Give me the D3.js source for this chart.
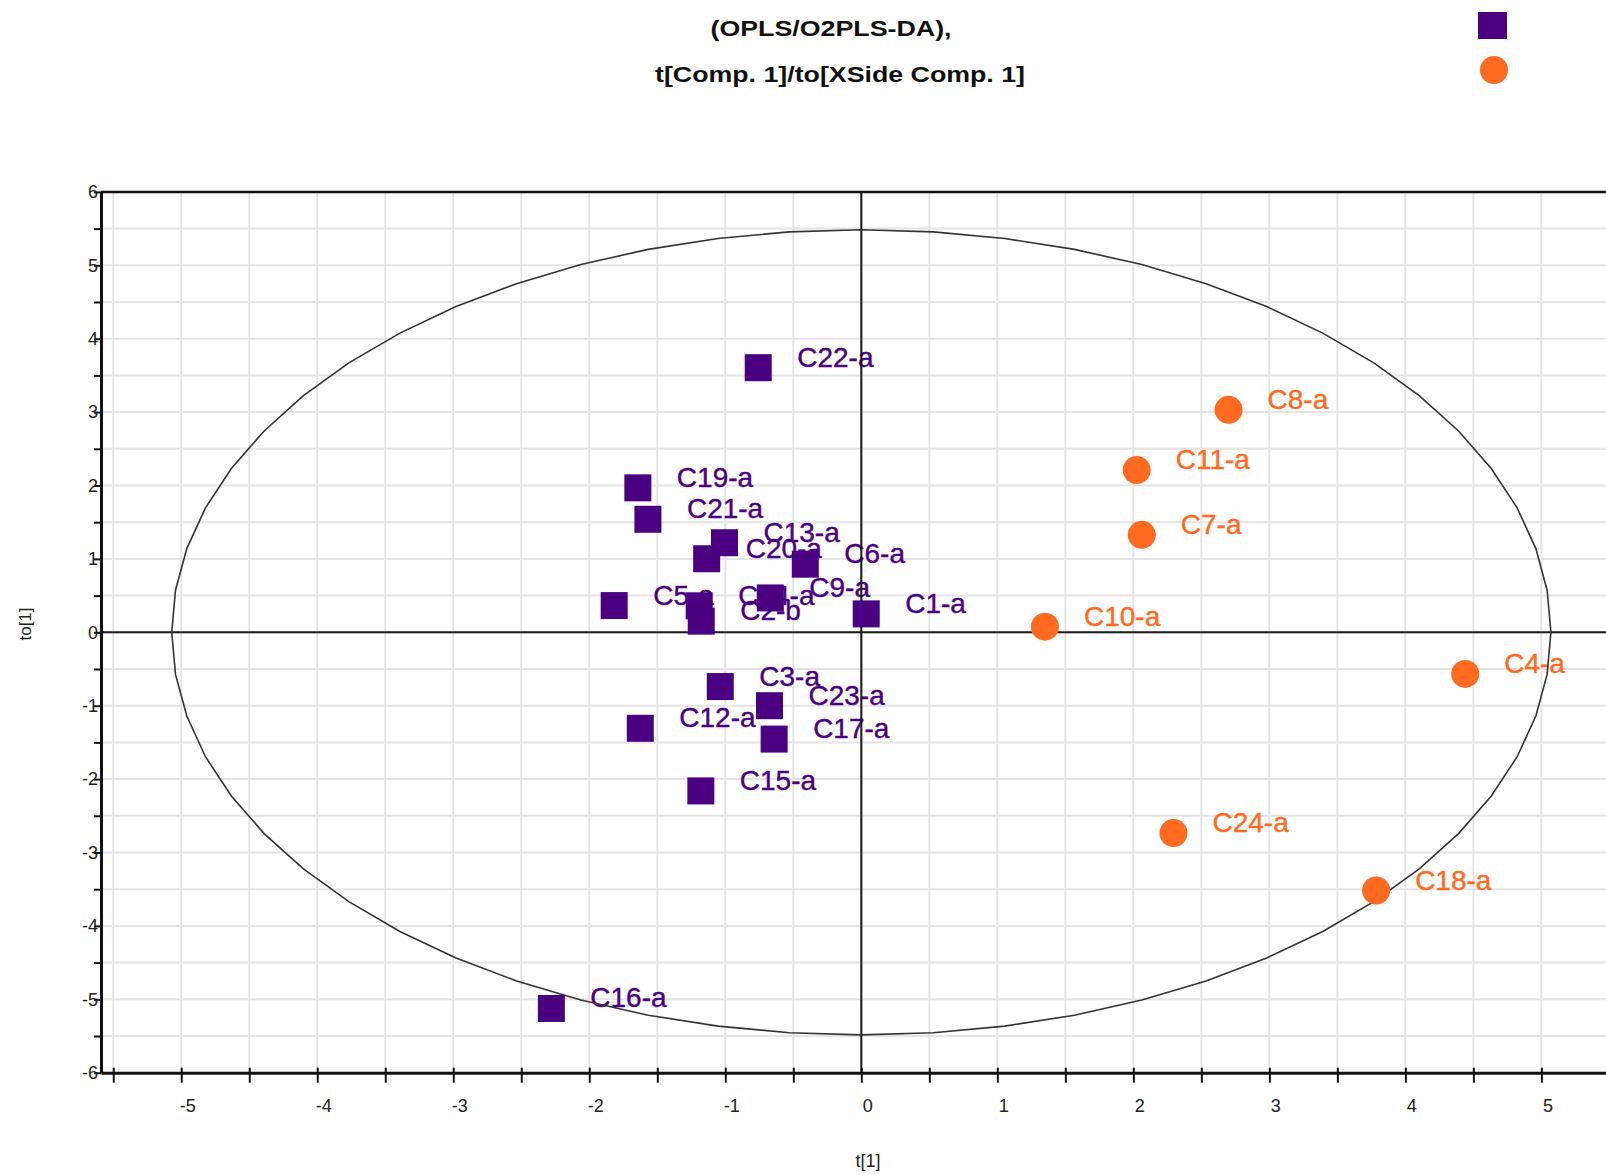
<!DOCTYPE html>
<html>
<head>
<meta charset="utf-8">
<script src="https://cdn.jsdelivr.net/npm/d3@7"></script>
<style>
  body { margin: 0; background: #fff; }
  svg { display: block; font-family: "Liberation Sans", Arial, sans-serif; }
</style>
</head>
<body>
<div id="chart"></div>
<script>
// class 1 (squares)
var purpleLabels = ['C22-a', 'C19-a', 'C21-a', 'C13-a', 'C20-a', 'C6-a', 'C5-a', 'C14-a', 'C2-b',
  'C9-a', 'C1-a', 'C3-a', 'C23-a', 'C12-a', 'C17-a', 'C15-a', 'C16-a'];
var purpleT = [-0.758, -1.643, -1.569, -1.006, -1.137, -0.412, -1.817, -1.192, -1.177,
  -0.669, 0.036, -1.037, -0.675, -1.625, -0.641, -1.180, -2.279];
var purpleTo = [3.605, 1.968, 1.540, 1.220, 1.002, 0.928, 0.364, 0.361, 0.152,
  0.468, 0.251, -0.739, -1.000, -1.308, -1.455, -2.161, -5.125];

// class 2 (circles)
var orangeLabels = ['C8-a', 'C11-a', 'C7-a', 'C10-a', 'C4-a', 'C24-a', 'C18-a'];
var orangeT = [2.700, 2.025, 2.062, 1.350, 4.440, 2.295, 3.785];
var orangeTo = [3.031, 2.210, 1.328, 0.076, -0.567, -2.735, -3.518];

var xLabelTicks = [-5, -4, -3, -2, -1, 0, 1, 2, 3, 4, 5];
var yLabelTicks = [-6, -5, -4, -3, -2, -1, 0, 1, 2, 3, 4, 5, 6];
var xMinorTicks = d3.range(-5.5, 5.51, 0.5);
var yMinorTicks = d3.range(-6, 6.01, 0.5);

var titleLines = ['(OPLS/O2PLS-DA),', 't[Comp. 1]/to[XSide Comp. 1]'];

var PURPLE = '#4b0082', ORANGE = '#ff6a21';

var width = 1606, height = 1175;

var svg = d3.select('#chart').append('svg')
    .attr('width', width)
    .attr('height', height);

var x = d3.scaleLinear().domain([-5.59, 5.6]).range([101, 1623]);
var y = d3.scaleLinear().domain([-6, 6]).range([1072.7, 191.9]);

var plotLeft = x.range()[0], plotRight = width + 10;
var plotTop = y(6), plotBottom = y(-6);

// grid
svg.append('g').selectAll('line')
    .data(xMinorTicks)
  .enter().append('line')
    .attr('x1', function(d) { return x(d); })
    .attr('x2', function(d) { return x(d); })
    .attr('y1', plotTop).attr('y2', plotBottom)
    .style('stroke', '#e4e4e4').style('stroke-width', 2);

svg.append('g').selectAll('line')
    .data(yMinorTicks)
  .enter().append('line')
    .attr('x1', plotLeft).attr('x2', plotRight)
    .attr('y1', function(d) { return y(d); })
    .attr('y2', function(d) { return y(d); })
    .style('stroke', '#e4e4e4').style('stroke-width', 2);

// point labels (under the lines and marks, like the original)
function addLabels(names, tx, ty, color) {
  svg.append('g').selectAll('text')
      .data(names)
    .enter().append('text')
      .attr('x', function(d, i) { return x(tx[i]) + 39; })
      .attr('y', function(d, i) { return y(ty[i]) - 1; })
      .style('font-size', '28px')
      .style('fill', color)
      .style('stroke', color)
      .style('stroke-width', 0.4)
      .text(function(d) { return d; });
}
addLabels(purpleLabels, purpleT, purpleTo, PURPLE);
addLabels(orangeLabels, orangeT, orangeTo, ORANGE);

// zero lines
svg.append('line')
    .attr('x1', plotLeft).attr('x2', plotRight)
    .attr('y1', y(0)).attr('y2', y(0))
    .style('stroke', '#1a1a1a').style('stroke-width', 2);
svg.append('line')
    .attr('x1', x(0)).attr('x2', x(0))
    .attr('y1', plotTop).attr('y2', plotBottom)
    .style('stroke', '#1a1a1a').style('stroke-width', 2);

// Hotelling ellipse
var rx = 5.07, ry = 5.485;
var ell = d3.range(0, 361, 6).map(function(a) {
  var r = a * Math.PI / 180;
  return [rx * Math.cos(r), ry * Math.sin(r)];
});
svg.append('path')
    .datum(ell)
    .attr('d', d3.line()
      .x(function(d) { return x(d[0]); })
      .y(function(d) { return y(d[1]); }))
    .style('fill', 'none')
    .style('stroke', '#333')
    .style('stroke-width', 1.6);

// frame top
svg.append('line')
    .attr('x1', plotLeft).attr('x2', plotRight)
    .attr('y1', plotTop).attr('y2', plotTop)
    .style('stroke', '#111').style('stroke-width', 2.5);

// x axis
var xAxis = svg.append('g')
    .attr('transform', 'translate(0,' + plotBottom + ')')
    .call(d3.axisBottom(x)
      .tickValues(xMinorTicks)
      .tickSizeInner(10)
      .tickSizeOuter(0)
      .tickFormat(function(d) { return xLabelTicks.indexOf(d) >= 0 ? String(d) : ''; }));
xAxis.select('.domain').style('stroke', '#111').style('stroke-width', 3);
xAxis.selectAll('.tick line').attr('y1', -5).style('stroke', '#111').style('stroke-width', 2);
xAxis.selectAll('.tick text')
    .attr('dx', 6).attr('y', 27)
    .style('font-size', '18px').style('fill', '#222');

// y axis
var yAxis = svg.append('g')
    .attr('transform', 'translate(' + plotLeft + ',0)')
    .call(d3.axisLeft(y)
      .tickValues(yMinorTicks)
      .tickSizeInner(7)
      .tickSizeOuter(0)
      .tickFormat(function(d) { return yLabelTicks.indexOf(d) >= 0 ? String(d) : ''; }));
yAxis.select('.domain').style('stroke', '#111').style('stroke-width', 3);
yAxis.selectAll('.tick line').style('stroke', '#111').style('stroke-width', 2);
yAxis.selectAll('.tick text')
    .attr('x', -3)
    .style('font-size', '18px').style('fill', '#222');

// marks
svg.append('g').selectAll('rect')
    .data(purpleLabels)
  .enter().append('rect')
    .attr('x', function(d, i) { return x(purpleT[i]) - 13.5; })
    .attr('y', function(d, i) { return y(purpleTo[i]) - 13.5; })
    .attr('width', 27).attr('height', 27)
    .style('fill', PURPLE);

svg.append('g').selectAll('circle')
    .data(orangeLabels)
  .enter().append('circle')
    .attr('cx', function(d, i) { return x(orangeT[i]); })
    .attr('cy', function(d, i) { return y(orangeTo[i]); })
    .attr('r', 14)
    .style('fill', ORANGE);

// axis titles
svg.append('text')
    .attr('x', 868).attr('y', 1167)
    .attr('text-anchor', 'middle')
    .style('font-size', '18px').style('fill', '#222')
    .text('t[1]');
svg.append('text')
    .attr('transform', 'translate(31,624) rotate(-90)')
    .attr('text-anchor', 'middle')
    .style('font-size', '17px').style('fill', '#222')
    .text('to[1]');

// title
var titleSpec = [{cx: 831, y: 36, w: 241}, {cx: 840, y: 82, w: 370}];
svg.append('g').selectAll('text')
    .data(titleLines)
  .enter().append('text')
    .attr('x', function(d, i) { return titleSpec[i].cx - titleSpec[i].w / 2; })
    .attr('y', function(d, i) { return titleSpec[i].y; })
    .attr('textLength', function(d, i) { return titleSpec[i].w; })
    .attr('lengthAdjust', 'spacingAndGlyphs')
    .style('font-size', '22px').style('font-weight', 'bold').style('fill', '#111')
    .text(function(d) { return d; });

// legend symbols
svg.append('rect')
    .attr('x', 1478).attr('y', 12).attr('width', 29).attr('height', 27)
    .style('fill', PURPLE);
svg.append('circle')
    .attr('cx', 1494).attr('cy', 70).attr('r', 14)
    .style('fill', ORANGE);
</script>
</body>
</html>
